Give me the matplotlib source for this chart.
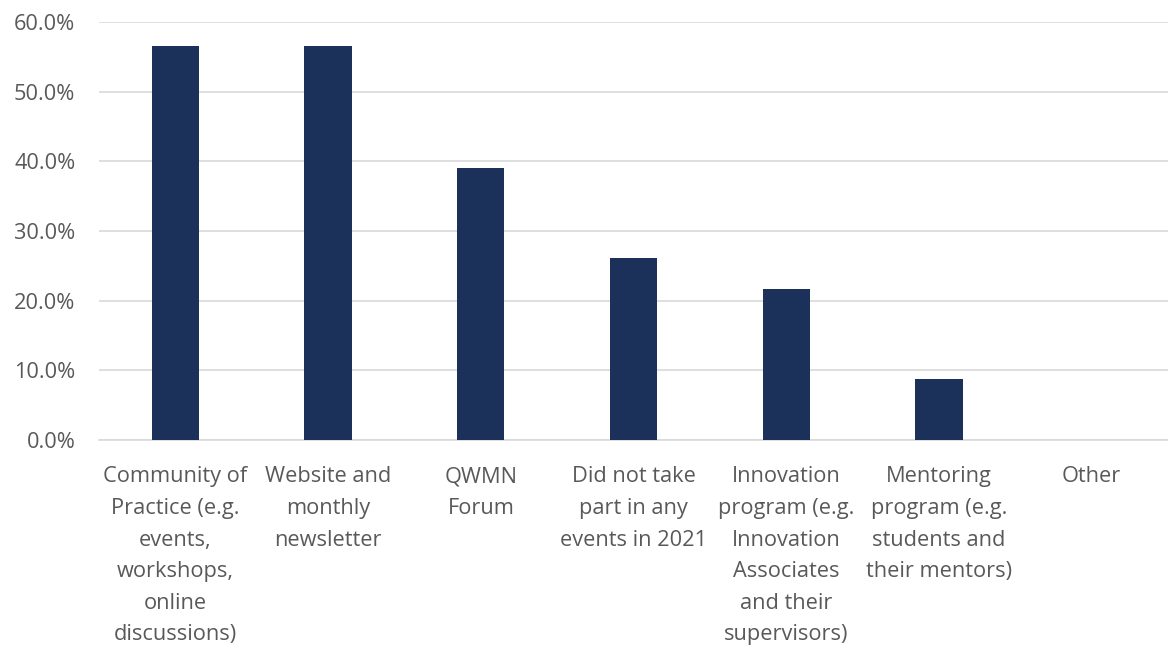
import numpy as np
import matplotlib.pyplot as plt
from matplotlib.ticker import PercentFormatter

plt.rcParams['font.family'] = ['Open Sans', 'DejaVu Sans']

categories = ['Community of\nPractice (e.g.\nevents,\nworkshops,\nonline\ndiscussions)',
              'Website and\nmonthly\nnewsletter',
              'QWMN\nForum',
              'Did not take\npart in any\nevents in 2021',
              'Innovation\nprogram (e.g.\nInnovation\nAssociates\nand their\nsupervisors)',
              'Mentoring\nprogram (e.g.\nstudents and\ntheir mentors)',
              'Other']
values = [56.5, 56.5, 39.1, 26.1, 21.7, 8.7, 0.0]
yticks = [0, 10, 20, 30, 40, 50, 60]

fig = plt.figure(figsize=(11.68, 6.48), dpi=100)
ax = fig.add_axes([0.0848, 0.321, 0.9152, 0.645])

x = np.arange(len(categories))
ax.bar(x, values, width=0.31, color='#1b3159', zorder=3)

ax.set_xlim(-0.5, len(categories) - 0.5)
ax.set_ylim(0, 60)
ax.set_yticks(yticks)
ax.yaxis.set_major_formatter(PercentFormatter(decimals=1))
ax.grid(axis='y', color='#d9d9d9', linewidth=1.2, zorder=0)

ax.set_xticks(x)
ax.set_xticklabels(categories, linespacing=1.66)
for s in ['top', 'right', 'left']:
    ax.spines[s].set_visible(False)
ax.spines['bottom'].set_color('#d9d9d9')
ax.spines['bottom'].set_linewidth(1.2)
ax.tick_params(axis='both', length=0, labelsize=15.7, colors='#595959')
ax.tick_params(axis='x', pad=19)
ax.tick_params(axis='y', pad=17)

fig.savefig('out.png', dpi=100)
